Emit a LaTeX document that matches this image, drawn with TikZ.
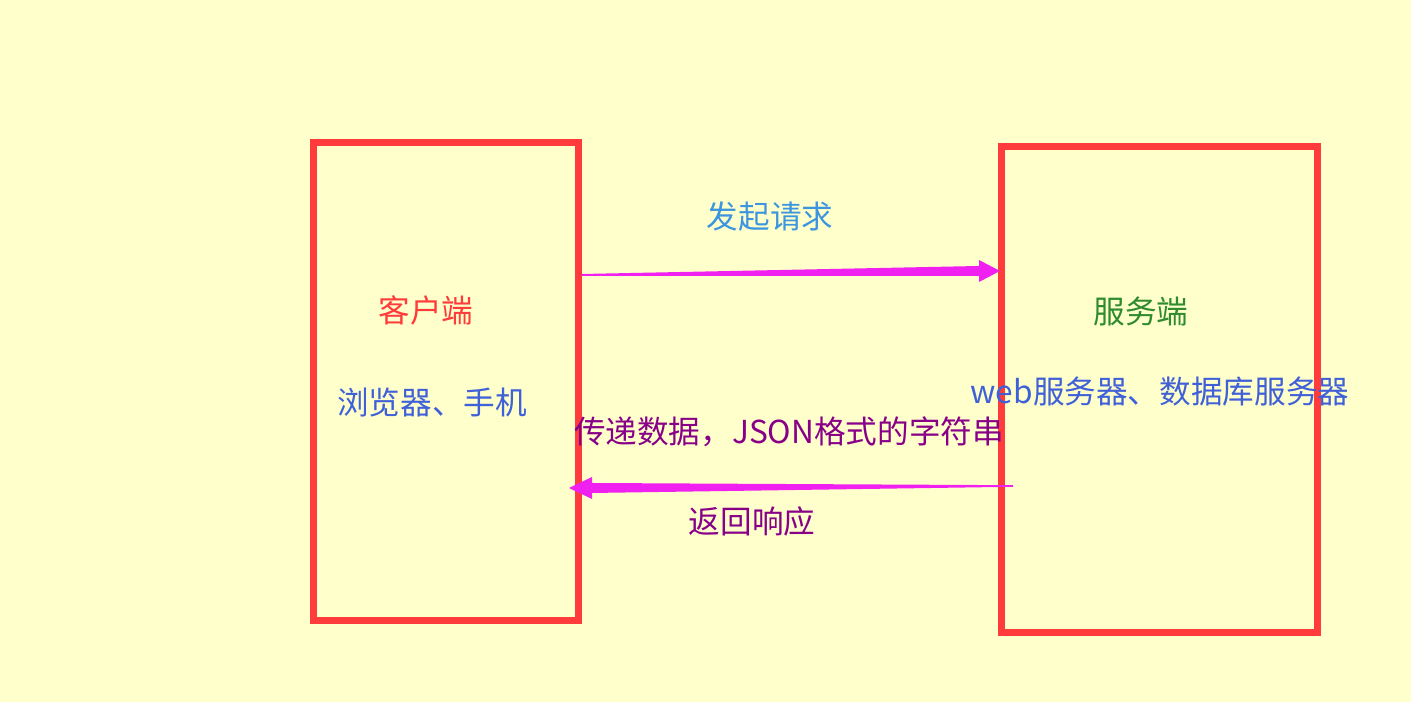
\documentclass[tikz,border=0pt]{standalone}
\usepackage{fontspec}
\newfontfamily\cjk{Noto Sans CJK SC}
\usetikzlibrary{positioning,calc}
\definecolor{bgyellow}{HTML}{FFFFCC}
\definecolor{boxred}{HTML}{FF3B3B}
\definecolor{arrowpink}{HTML}{F020F0}
\definecolor{reqblue}{HTML}{3D95E0}
\definecolor{infoblue}{HTML}{4060D8}
\definecolor{srvgreen}{HTML}{2E8B2E}
\definecolor{dataviolet}{HTML}{880088}
\tikzstyle{endbox}=[draw=boxred, line width=3.97pt, inner sep=0pt]
\tikzstyle{label}=[font=\cjk\fontsize{18}{22}\selectfont, inner sep=0pt]
\tikzstyle{flow}=[fill=arrowpink]

\begin{document}
\begin{tikzpicture}[x=0.02cm, y=0.02cm]
  \fill[bgyellow] (0,0) rectangle (1411,702);
  \useasboundingbox (0,0) rectangle (1411,702);

  \node[endbox, minimum width=5.3cm, minimum height=9.56cm]
    (client) at (446,320.5) {};
  \node[endbox, minimum width=6.34cm, minimum height=9.74cm]
    (server) at (1159.5,312.5) {};

  \node[label, text=boxred] (clientname) at (426,392) {客户端};
  \node[label, text=infoblue] (clientkind) at (432,299) {浏览器、手机};
  \node[label, text=srvgreen] (servername) at (1141,390) {服务端};
  \node[label, text=infoblue] (serverkind) at (1160,310) {web服务器、数据库服务器};

  % request
  \coordinate (reqtail) at ($(client.east)+(0,106.5)$);
  \coordinate (reqtip) at ($(server.west)+(2.5,118.5)$);
  \fill[flow] ($(reqtail)+(0,1)$) -- (979,436) -- (979,442) -- (reqtip)
    -- (979,420) -- (979,426) -- ($(reqtail)+(0,-1)$) -- cycle;
  \node[label, text=reqblue] (reqtext) at (770,485) {发起请求};

  % response
  \coordinate (resptail) at ($(server.west)+(15.5,-96.5)$);
  \coordinate (resptip) at ($(client.east)+(-13,-106.5)$);
  \fill[flow] ($(resptail)+(0,0.8)$) -- (592,219) -- (592,225) -- (resptip)
    -- (592,203) -- (592,209) -- ($(resptail)+(0,-0.8)$) -- cycle;
  \node[label, text=dataviolet] (resptext) at (789,270) {传递数据，JSON格式的字符串};
  \node[label, text=dataviolet] (respname) at (752,181) {返回响应};
\end{tikzpicture}
\end{document}
